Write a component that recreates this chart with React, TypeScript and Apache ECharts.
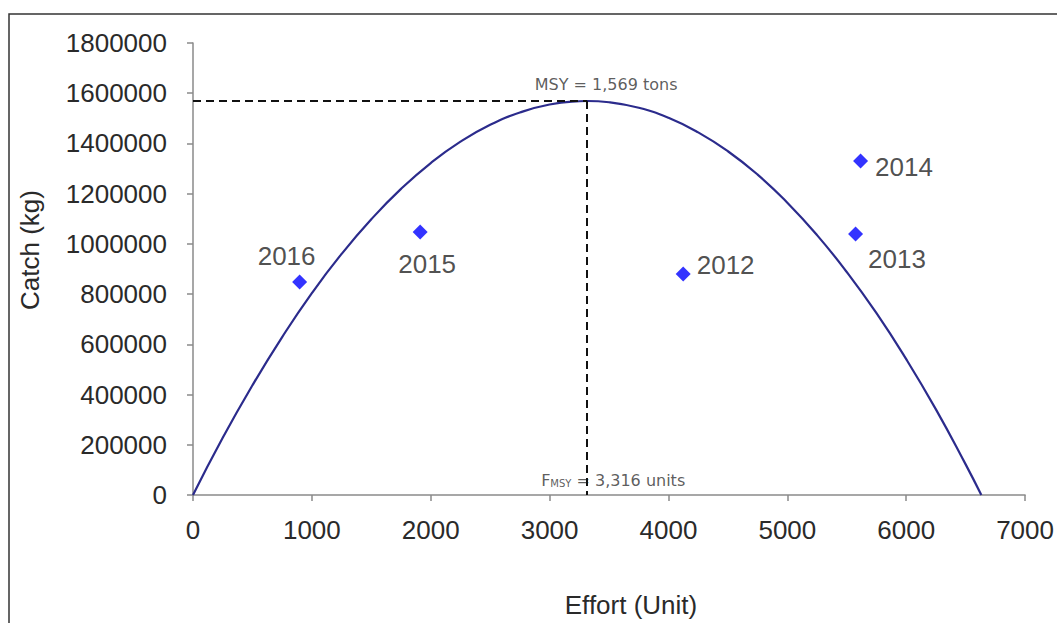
import React, { useEffect, useRef } from "react";
import * as echarts from "echarts";

// Fitted yield curve (effort, catch)
const curveEffort = [0, 250, 500, 750, 1000, 1250, 1500, 1750, 2000, 2250, 2500, 2750, 3000, 3250, 3316, 3500, 3750, 4000, 4250, 4500, 4750, 5000, 5250, 5500, 5750, 6000, 6250, 6500, 6632];
const curveCatch = [0, 228000, 437000, 629000, 804000, 960000, 1098000, 1219000, 1322000, 1407000, 1474000, 1523000, 1555000, 1568000, 1569000, 1564000, 1542000, 1502000, 1444000, 1369000, 1276000, 1164000, 1035000, 888000, 724000, 541000, 341000, 122000, 0];

// Observed years
const years = ["2016", "2015", "2012", "2013", "2014"];
const obsEffort = [897, 1911, 4124, 5574, 5616];
const obsCatch = [848000, 1047000, 880000, 1039000, 1330000];

const msyCatch = 1569000;
const fmsyEffort = 3316;

const xTicks = [0, 7000, 1000];
const yTicks = [0, 1800000, 200000];

const labelPlacement: Record<string, { position: string; offset: number[] }> = {
  "2016": { position: "top", offset: [-13, -1] },
  "2015": { position: "bottom", offset: [7, 6] },
  "2012": { position: "right", offset: [1, -9] },
  "2013": { position: "right", offset: [0, 25] },
  "2014": { position: "right", offset: [2, 6] },
};

export default function App() {
  const ref = useRef<HTMLDivElement>(null);
  useEffect(() => {
    if (!ref.current) return;
    const chart = echarts.init(ref.current, undefined, { renderer: "svg" });
    const font = "'Liberation Sans', Arial, sans-serif";
    const axisColor = "#8a8a8a";
    const plain = (v: number) => String(v);
    chart.setOption({
      animation: false,
      backgroundColor: "#ffffff",
      grid: { left: 193, right: 29, top: 43, bottom: 128, containLabel: false },
      graphic: [
        {
          type: "rect",
          shape: { x: 9, y: 14, width: 1100, height: 700 },
          style: { fill: "none", stroke: "#333333", lineWidth: 1.5 },
          silent: true,
        },
        {
          type: "text",
          x: 631,
          y: 605,
          style: { text: "Effort (Unit)", fill: "#2a2a2a", font: `26px ${font}`, textAlign: "center", textVerticalAlign: "middle" },
        },
        {
          type: "text",
          x: 30,
          y: 250,
          rotation: Math.PI / 2,
          style: { text: "Catch (kg)", fill: "#2a2a2a", font: `26px ${font}`, textAlign: "center", textVerticalAlign: "middle" },
        },
      ],
      xAxis: {
        type: "value",
        min: xTicks[0],
        max: xTicks[1],
        interval: xTicks[2],
        splitLine: { show: false },
        axisLine: { show: true, lineStyle: { color: axisColor, width: 1.5 } },
        axisTick: { show: true, length: 6, inside: false, lineStyle: { color: axisColor, width: 1.5 } },
        axisLabel: { color: "#2a2a2a", fontSize: 26, fontFamily: font, margin: 22, formatter: plain },
      },
      yAxis: {
        type: "value",
        min: yTicks[0],
        max: yTicks[1],
        interval: yTicks[2],
        splitLine: { show: false },
        axisLine: { show: true, lineStyle: { color: axisColor, width: 1.5 } },
        axisTick: { show: true, length: 6, inside: false, lineStyle: { color: axisColor, width: 1.5 } },
        axisLabel: { color: "#2a2a2a", fontSize: 26, fontFamily: font, margin: 26, formatter: plain },
      },
      series: [
        {
          name: "Yield curve",
          type: "line",
          smooth: true,
          showSymbol: false,
          symbol: "none",
          data: curveEffort.map((e, i) => [e, curveCatch[i]]),
          lineStyle: { color: "#2b2b8c", width: 2.2 },
          z: 3,
          markLine: {
            silent: true,
            symbol: ["none", "none"],
            label: { show: false },
            lineStyle: { color: "#111111", type: [8, 5], width: 2 },
            data: [
              [{ coord: [0, msyCatch] }, { coord: [fmsyEffort, msyCatch] }],
              [{ coord: [fmsyEffort, msyCatch] }, { coord: [fmsyEffort, 0] }],
            ],
          },
        },
        {
          name: "Annotations",
          type: "scatter",
          symbolSize: 0,
          silent: true,
          data: [
            {
              value: [fmsyEffort, msyCatch],
              label: {
                show: true,
                position: "top",
                offset: [19, -4],
                formatter: "MSY = 1,569 tons",
                color: "#333333",
                fontSize: 16,
                fontFamily: "'DejaVu Sans', Verdana, sans-serif",
              },
            },
            {
              value: [fmsyEffort, 0],
              label: {
                show: true,
                position: "top",
                offset: [26, -2],
                formatter: "{f|F}{s|MSY}{f| = 3,316 units}",
                rich: {
                  f: { color: "#333333", fontSize: 16, fontFamily: "'DejaVu Sans', Verdana, sans-serif" },
                  s: { color: "#333333", fontSize: 10, fontFamily: "'DejaVu Sans', Verdana, sans-serif", verticalAlign: "bottom", padding: [6, 0, 0, 0] },
                },
              },
            },
          ],
          z: 4,
        },
        {
          name: "Observed",
          type: "scatter",
          symbol: "diamond",
          symbolSize: 15,
          itemStyle: { color: "#0000ff" },
          data: years.map((y, i) => ({
            value: [obsEffort[i], obsCatch[i]],
            name: y,
            label: {
              show: true,
              formatter: y,
              position: labelPlacement[y].position,
              offset: labelPlacement[y].offset,
              color: "#222222",
              fontSize: 26,
              fontFamily: font,
            },
          })),
          z: 5,
        },
      ],
    });
    return () => chart.dispose();
  }, []);
  return (
    <div
      ref={ref}
      style={{ position: "fixed", left: 0, top: 0, width: 1057, height: 623, background: "#fff" }}
    />
  );
}
